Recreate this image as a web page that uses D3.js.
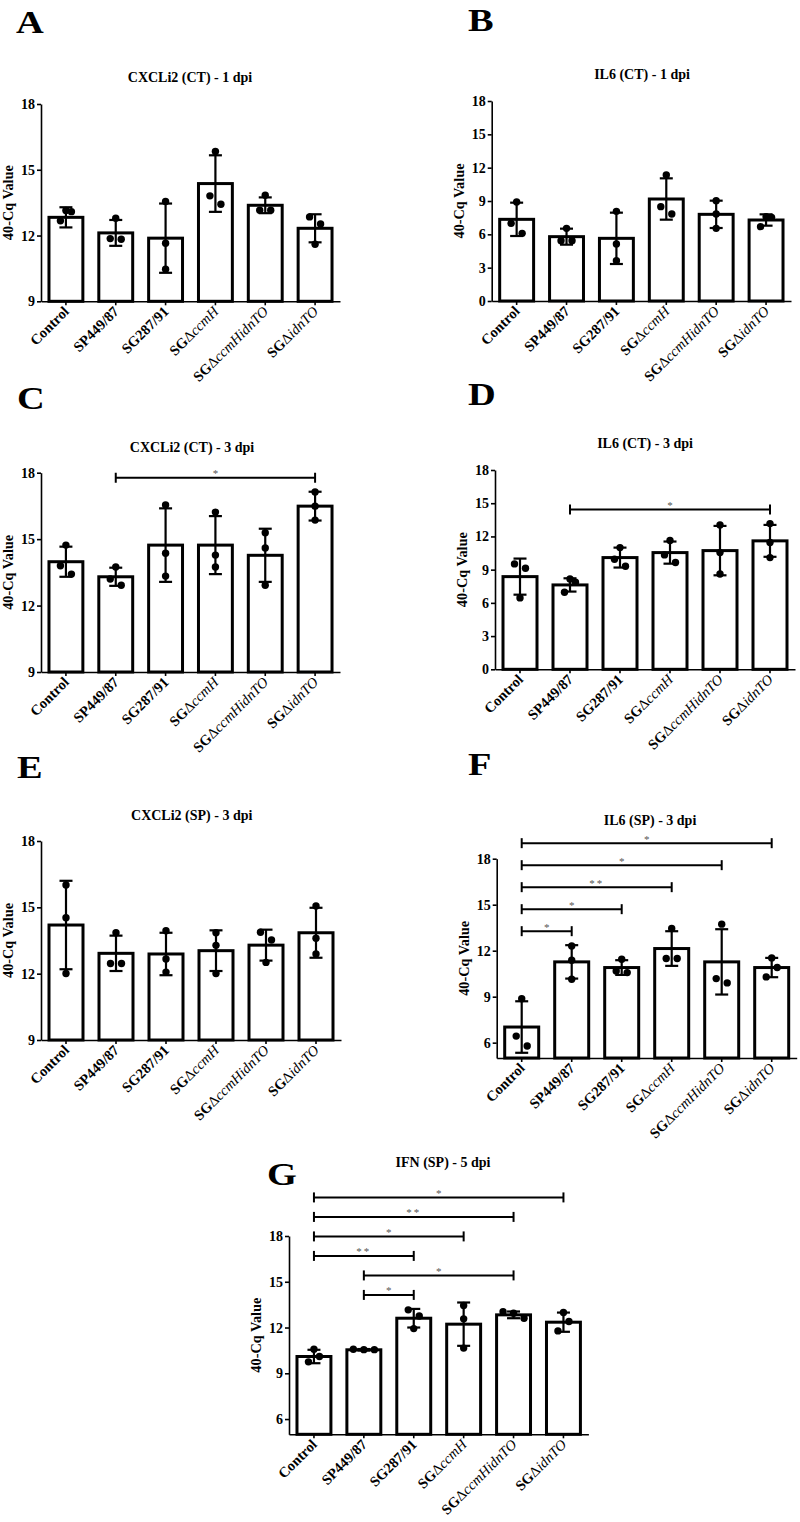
<!DOCTYPE html>
<html><head><meta charset="utf-8">
<script src="https://cdn.jsdelivr.net/npm/d3@7"></script>
<style>body{margin:0;background:#fff}</style>
</head><body>
<svg id="fig" width="800" height="1522" xmlns="http://www.w3.org/2000/svg"></svg>
<script>
// ---------- DATA ----------
const categories = ["Control","SP449/87","SG287/91","SG\u0394ccmH","SG\u0394ccmHidnTO","SG\u0394idnTO"];
const yTicks9 = [9,12,15,18];
const yTicks0 = [0,3,6,9,12,15,18];
const yTicks5 = [6,9,12,15,18];

// A: CXCLi2 (CT) - 1 dpi
const cxcl2Ct1Means = [12.83, 12.12, 11.88, 14.37, 13.38, 12.33];
const cxcl2Ct1Sd    = [0.46, 0.59, 1.58, 1.29, 0.36, 0.64];
const cxcl2Ct1Pts   = [[13.14,13.09,12.67],[12.79,11.86,11.83],[13.55,11.65,10.46],[15.83,13.81,13.43],[13.84,13.15,13.15],[12.85,12.53,11.6]];
// B: IL6 (CT) - 1 dpi
const il6Ct1Means = [7.35, 5.79, 5.64, 9.18, 7.8, 7.29];
const il6Ct1Sd    = [1.5, 0.72, 2.31, 1.86, 1.23, 0.51];
const il6Ct1Pts   = [[8.91,6.99,6.09],[6.54,5.43,5.43],[8.07,5.13,3.63],[11.34,8.49,7.83],[9.03,7.83,6.54],[7.59,7.53,6.69]];
// C: CXCLi2 (CT) - 3 dpi
const cxcl2Ct3Means = [13.98, 13.3, 14.73, 14.73, 14.27, 16.49];
const cxcl2Ct3Sd    = [0.68, 0.41, 1.66, 1.31, 1.2, 0.65];
const cxcl2Ct3Pts   = [[14.73,13.8,13.42],[13.74,13.2,12.92],[16.54,14.36,13.33],[16.22,14.28,13.74],[15.29,14.6,12.92],[17.13,16.49,15.86]];
const cxcl2Ct3Sig   = [[1,5,"*"]];
// D: IL6 (CT) - 3 dpi
const il6Ct3Means = [8.37, 7.62, 10.09, 10.54, 10.72, 11.6];
const il6Ct3Sd    = [1.63, 0.6, 0.9, 1.0, 2.23, 1.44];
const il6Ct3Pts   = [[9.52,9.13,6.45],[8.16,7.86,6.96],[10.99,9.94,9.31],[11.63,10.33,9.64],[13.04,10.54,8.61],[13.16,11.45,10.09]];
const il6Ct3Sig   = [[1,5,"*"]];
// E: CXCLi2 (SP) - 3 dpi
const cxcl2Sp3Means = [14.2, 12.92, 12.89, 13.04, 13.29, 13.85];
const cxcl2Sp3Sd    = [2.0, 0.8, 0.96, 0.92, 0.7, 1.13];
const cxcl2Sp3Pts   = [[16.01,14.53,12.01],[13.85,12.46,12.46],[13.94,12.66,12.07],[13.85,13.28,12.01],[13.87,13.52,12.51],[15.06,13.6,12.89]];
// F: IL6 (SP) - 3 dpi
const il6Sp3Means = [7.02, 11.27, 10.9, 12.14, 11.27, 10.9];
const il6Sp3Sd    = [1.68, 1.09, 0.48, 1.13, 2.13, 0.63];
const il6Sp3Pts   = [[8.87,6.43,5.78],[12.31,11.38,10.14],[11.44,10.68,10.57],[13.45,11.49,11.49],[13.73,10.18,9.9],[11.53,10.9,10.29]];
const il6Sp3Sig   = [[0,1,"*"],[0,2,"*"],[0,3,"**"],[0,4,"*"],[0,5,"*"]];
// G: IFN (SP) - 5 dpi
const ifnSp5Means = [10.1, 10.54, 12.61, 12.22, 12.83, 12.35];
const ifnSp5Sd    = [0.44, 0.05, 0.61, 1.42, 0.22, 0.63];
const ifnSp5Pts   = [[10.58,10.1,9.75],[10.58,10.55,10.55],[13.16,12.76,11.93],[13.44,12.57,10.65],[13.03,12.94,12.61],[12.98,12.39,11.78]];
const ifnSp5Sig   = [[1,2,"*"],[1,4,"*"],[0,2,"**"],[0,3,"*"],[0,4,"**"],[0,5,"*"]];

// ---------- LAYOUT ----------
const panels = [
  {letter:"A", title:"CXCLi2 (CT) - 1 dpi", means:cxcl2Ct1Means, sd:cxcl2Ct1Sd, pts:cxcl2Ct1Pts, sig:[], dom:[9,18], ticks:yTicks9,
   x0:41, x1:340, yTop:104, yBot:301.3, tx:190, ty:82, lx:16, ly:33},
  {letter:"B", title:"IL6 (CT) - 1 dpi", means:il6Ct1Means, sd:il6Ct1Sd, pts:il6Ct1Pts, sig:[], dom:[0,18], ticks:yTicks0,
   x0:491.7, x1:791, yTop:101, yBot:301, tx:642, ty:79, lx:468, ly:31},
  {letter:"C", title:"CXCLi2 (CT) - 3 dpi", means:cxcl2Ct3Means, sd:cxcl2Ct3Sd, pts:cxcl2Ct3Pts, sig:cxcl2Ct3Sig, dom:[9,18], ticks:yTicks9,
   x0:41, x1:340, yTop:472.7, yBot:672, tx:192, ty:451.7, lx:17, ly:409, sp:20},
  {letter:"D", title:"IL6 (CT) - 3 dpi", means:il6Ct3Means, sd:il6Ct3Sd, pts:il6Ct3Pts, sig:il6Ct3Sig, dom:[0,18], ticks:yTicks0,
   x0:495, x1:795, yTop:470, yBot:669.3, tx:645, ty:448.3, lx:468, ly:405, sp:20},
  {letter:"E", title:"CXCLi2 (SP) - 3 dpi", means:cxcl2Sp3Means, sd:cxcl2Sp3Sd, pts:cxcl2Sp3Pts, sig:[], dom:[9,18], ticks:yTicks9,
   x0:41, x1:341, yTop:841, yBot:1040, tx:191.7, ty:820, lx:17, ly:778},
  {letter:"F", title:"IL6 (SP) - 3 dpi", means:il6Sp3Means, sd:il6Sp3Sd, pts:il6Sp3Pts, sig:il6Sp3Sig, dom:[5,18], ticks:yTicks5,
   x0:496.7, x1:796.7, yTop:858.7, yBot:1058, tx:650, ty:825, lx:468, ly:775, sp:22},
  {letter:"G", title:"IFN (SP) - 5 dpi", means:ifnSp5Means, sd:ifnSp5Sd, pts:ifnSp5Pts, sig:ifnSp5Sig, dom:[5,18], ticks:yTicks5,
   x0:289, x1:588.4, yTop:1236, yBot:1434.3, tx:443, ty:1167, lx:267, ly:1185, sp:19.5}
];

const FONT = "'Liberation Serif','Times New Roman',serif";
const svg = d3.select("#fig");

function labelParts(c){
  if (c.startsWith("SG\u0394")) return [["SG","b"],["\u0394","n"],[c.slice(3),"i"]];
  return [[c,"b"]];
}

function jitter(vals, y){
  const idx = vals.map((v,i)=>i).sort((a,b)=>vals[b]-vals[a]);
  const off = vals.map(()=>0);
  const clusters = []; let cur = [idx[0]];
  for (let k=1;k<idx.length;k++){
    if (y(vals[idx[k]]) - y(vals[idx[k-1]]) < 11) cur.push(idx[k]);
    else { clusters.push(cur); cur=[idx[k]]; }
  }
  clusters.push(cur);
  clusters.forEach(c=>{
    if (c.length===2){ off[c[0]]=-5.5; off[c[1]]=5.5; }
    else if (c.length===3){
      const span = y(vals[c[2]]) - y(vals[c[0]]);
      if (span < 7){ off[c[0]]=-10.5; off[c[1]]=0; off[c[2]]=10.5; }
      else { off[c[0]]=0; off[c[1]]=5.5; off[c[2]]=-5.5; }
    }
  });
  return off;
}

panels.forEach(p=>{
  const g = svg.append("g");
  const x = d3.scaleBand().domain(categories).range([p.x0,p.x1]).paddingInner(0.32).paddingOuter(0.16);
  const y = d3.scaleLinear().domain(p.dom).range([p.yBot,p.yTop]);
  const cx = c => x(c) + x.bandwidth()/2;

  // panel letter
  g.append("text").attr("transform",`translate(${p.lx},${p.ly}) scale(1.2,1)`)
    .attr("font-family",FONT).attr("font-weight","bold").attr("font-size",32).text(p.letter);
  // title
  g.append("text").attr("x",p.tx).attr("y",p.ty).attr("text-anchor","middle")
    .attr("font-family",FONT).attr("font-weight","bold").attr("font-size",14).text(p.title);

  // bars
  g.selectAll("rect.bar").data(categories).join("rect").attr("class","bar")
    .attr("x",c=>x(c)).attr("width",x.bandwidth())
    .attr("y",(c,i)=>y(p.means[i])).attr("height",(c,i)=>y(p.dom[0])-y(p.means[i]))
    .attr("fill","#fff").attr("stroke","#000").attr("stroke-width",3);

  // error bars
  categories.forEach((c,i)=>{
    const hi = y(p.means[i]+p.sd[i]), lo = y(p.means[i]-p.sd[i]);
    const eg = g.append("g").attr("stroke","#000").attr("stroke-width",2.2);
    eg.append("line").attr("x1",cx(c)).attr("x2",cx(c)).attr("y1",hi).attr("y2",lo);
    eg.append("line").attr("x1",cx(c)-6.5).attr("x2",cx(c)+6.5).attr("y1",hi).attr("y2",hi);
    eg.append("line").attr("x1",cx(c)-6.5).attr("x2",cx(c)+6.5).attr("y1",lo).attr("y2",lo);
  });

  // points
  categories.forEach((c,i)=>{
    const vals = p.pts[i];
    const off = jitter(vals,y);
    g.selectAll(null).data(vals).join("circle")
      .attr("cx",(v,k)=>cx(c)+off[k]).attr("cy",v=>y(v)).attr("r",3.7).attr("fill","#000");
  });

  // axes
  const ya = d3.axisLeft(y).tickValues(p.ticks).tickSize(4).tickSizeOuter(0).tickPadding(2).tickFormat(d3.format("d"));
  const yg = g.append("g").attr("transform",`translate(${p.x0},0)`).call(ya);
  yg.select(".domain").attr("stroke-width",1.6);
  yg.selectAll(".tick line").attr("stroke-width",1.6);
  yg.selectAll("text").attr("font-family",FONT).attr("font-weight","bold").attr("font-size",14).attr("fill","#000");

  const xa = d3.axisBottom(x).tickSize(4).tickSizeOuter(0).tickFormat("");
  const xg = g.append("g").attr("transform",`translate(0,${p.yBot})`).call(xa);
  xg.select(".domain").attr("stroke-width",1.6);
  xg.selectAll(".tick line").attr("stroke-width",1.6);

  // x labels
  categories.forEach(c=>{
    const t = g.append("text")
      .attr("transform",`translate(${cx(c)+4},${p.yBot+11}) rotate(-45)`)
      .attr("text-anchor","end").attr("font-family",FONT).attr("font-size",14.5).attr("fill","#000");
    labelParts(c).forEach(([s,st])=>{
      t.append("tspan").text(s)
        .attr("font-weight",st==="b"?"bold":"normal")
        .attr("font-style",st==="i"?"italic":"normal");
    });
  });

  // y label
  g.append("text").attr("transform",`translate(${p.x0-28},${(p.yTop+p.yBot)/2}) rotate(-90)`)
    .attr("text-anchor","middle").attr("font-family",FONT).attr("font-weight","bold").attr("font-size",15.5)
    .attr("textLength",75).attr("lengthAdjust","spacingAndGlyphs")
    .text("40-Cq Value");

  // significance brackets
  let prev = null;
  p.sig.forEach(([a,b,lab])=>{
    let top = Infinity;
    for (let i=a;i<=b;i++){
      const m = Math.max(d3.max(p.pts[i]), p.means[i]+p.sd[i]);
      top = Math.min(top, y(m));
    }
    let yb = top - 14;
    if (prev!==null) yb = Math.min(yb, prev - p.sp);
    prev = yb;
    const xa1 = cx(categories[a]), xb1 = cx(categories[b]);
    const sg = g.append("g").attr("stroke","#000").attr("stroke-width",2);
    sg.append("line").attr("x1",xa1).attr("x2",xb1).attr("y1",yb).attr("y2",yb);
    sg.append("line").attr("x1",xa1).attr("x2",xa1).attr("y1",yb-5).attr("y2",yb+5);
    sg.append("line").attr("x1",xb1).attr("x2",xb1).attr("y1",yb-5).attr("y2",yb+5);
    g.append("text").attr("x",(xa1+xb1)/2).attr("y",yb-0.5).attr("text-anchor","middle")
      .attr("font-family",FONT).attr("font-size",11).attr("fill","#555")
      .attr("letter-spacing",lab.length>1?2:0).text(lab);
  });
});
</script>
</body></html>
